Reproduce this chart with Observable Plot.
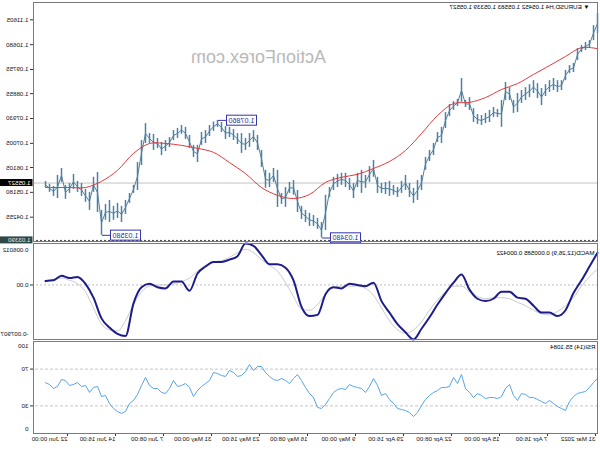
<!DOCTYPE html>
<html><head><meta charset="utf-8">
<script src="https://cdn.jsdelivr.net/npm/d3@7"></script>
<script src="https://cdn.jsdelivr.net/npm/@observablehq/plot@0.6"></script>
<style>
body{margin:0;background:#fff;}
#wrap{width:600px;height:450px;transform:scaleX(-1);transform-origin:50% 50%;overflow:hidden;background:#fff;}
#wrap svg{display:block;}
</style></head>
<body><div id="wrap"></div>
<script>
// ---------- data (H4 bars, oldest first) ----------
const barHigh = [1.1184,1.1139,1.1083,1.1076,1.1065,1.1053,1.0998,1.0990,1.0972,1.0934,1.0934,1.0942,1.0934,1.0919,1.0905,1.0923,1.0934,1.0919,1.0908,1.0897,1.0886,1.0860,1.0908,1.0927,1.0860,1.0827,1.0834,1.0823,1.0812,1.0804,1.0808,1.0830,1.0871,1.0860,1.0942,1.0864,1.0856,1.0845,1.0815,1.0760,1.0741,1.0700,1.0674,1.0648,1.0581,1.0562,1.0533,1.0551,1.0581,1.0559,1.0536,1.0544,1.0559,1.0555,1.0551,1.0574,1.0637,1.0614,1.0581,1.0600,1.0589,1.0551,1.0570,1.0589,1.0589,1.0585,1.0574,1.0536,1.0507,1.0406,1.0421,1.0432,1.0440,1.0451,1.0466,1.0525,1.0562,1.0555,1.0536,1.0514,1.0600,1.0607,1.0589,1.0600,1.0674,1.0730,1.0748,1.0737,1.0719,1.0737,1.0737,1.0752,1.0760,1.0763,1.0778,1.0786,1.0780,1.0767,1.0748,1.0741,1.0693,1.0693,1.0730,1.0760,1.0767,1.0756,1.0748,1.0722,1.0711,1.0704,1.0719,1.0734,1.0737,1.0774,1.0711,1.0629,1.0544,1.0514,1.0488,1.0466,1.0477,1.0466,1.0488,1.0473,1.0451,1.0592,1.0574,1.0518,1.0529,1.0551,1.0559,1.0585,1.0551,1.0544,1.0607,1.0581,1.0540,1.0548,1.05583];
const barLow = [1.1109,1.1083,1.1057,1.1046,1.1039,1.1009,1.0964,1.0960,1.0934,1.0897,1.0890,1.0897,1.0890,1.0875,1.0841,1.0867,1.0886,1.0871,1.0860,1.0849,1.0815,1.0812,1.0860,1.0860,1.0760,1.0797,1.0797,1.0778,1.0774,1.0767,1.0771,1.0778,1.0823,1.0834,1.0853,1.0838,1.0823,1.0800,1.0756,1.0700,1.0704,1.0655,1.0633,1.0600,1.0525,1.0488,1.0477,1.0499,1.0525,1.0514,1.0499,1.0507,1.0503,1.0510,1.0514,1.0514,1.0574,1.0555,1.0533,1.0514,1.0536,1.0495,1.0525,1.0536,1.0544,1.0536,1.0525,1.0499,1.0376,1.0348,1.0380,1.0391,1.0391,1.0406,1.0417,1.0443,1.0507,1.0514,1.0462,1.0473,1.0462,1.0555,1.0536,1.0533,1.0611,1.0674,1.0704,1.0685,1.0674,1.0663,1.0696,1.0711,1.0722,1.0715,1.0741,1.0760,1.0745,1.0726,1.0700,1.0693,1.0629,1.0648,1.0681,1.0715,1.0734,1.0719,1.0711,1.0685,1.0670,1.0655,1.0681,1.0674,1.0700,1.0700,1.0618,1.0525,1.0514,1.0477,1.0436,1.0406,1.0421,1.0414,1.0406,1.0414,1.0358,1.0443,1.0518,1.0451,1.0481,1.0503,1.0518,1.0529,1.0514,1.0492,1.0555,1.0495,1.0503,1.0518,1.05339];
// moving average, one value every 4 bars (last one on the final bar)
const maValues = [1.1053,1.1057,1.1024,1.0990,1.0957,1.0923,1.0901,1.0871,1.0853,1.0849,1.0804,1.0737,1.0674,1.0633,1.0607,1.0585,1.0574,1.0555,1.0510,1.0495,1.0507,1.0536,1.0588,1.0629,1.0667,1.0682,1.0693,1.0700,1.0700,1.0663,1.0600,1.0559,1.0536,1.0536,1.0536,1.0536];
// MACD(12,26,9), one value every 2 bars
const macdMain = [0.00468,0.00267,0.00067,-0.00117,-0.00367,-0.00451,-0.00401,-0.00401,-0.00301,-0.00200,-0.00184,-0.00100,-0.00100,-0.00200,-0.00234,-0.00200,-0.00067,0.00150,0.00033,-0.00117,-0.00284,-0.00468,-0.00635,-0.00790,-0.00685,-0.00568,-0.00401,-0.00234,0.00033,-0.00017,0,0.00017,-0.00050,-0.00033,-0.00134,-0.00434,-0.00451,-0.00317,0.00067,0.00251,0.00301,0.00301,0.00434,0.00568,0.00601,0.00418,0.00367,0.00334,0.00334,0.00267,0.00167,-0.00084,0.00050,0.00050,-0.00050,-0.00033,0.00017,-0.00033,-0.00267,-0.00740,-0.00710,-0.00618,-0.00484,-0.00184,0.00017,0.00117,0.00100,0.00134,0.00067,0.000585];
const macdSignal = [0.00234,0.00117,-0.00017,-0.00184,-0.00301,-0.00384,-0.00434,-0.00418,-0.00367,-0.00301,-0.00251,-0.00200,-0.00184,-0.00184,-0.00200,-0.00167,-0.00100,-0.00017,-0.00017,-0.00100,-0.00217,-0.00367,-0.00534,-0.00651,-0.00701,-0.00651,-0.00518,-0.00334,-0.00150,-0.00050,-0.00017,-0.00017,-0.00017,-0.00033,-0.00134,-0.00284,-0.00367,-0.00351,-0.00167,0.00033,0.00200,0.00284,0.00367,0.00468,0.00518,0.00468,0.00401,0.00351,0.00334,0.00284,0.00200,0.00100,0.00050,0.00017,0,0,-0.00017,-0.00100,-0.00284,-0.00518,-0.00668,-0.00651,-0.00568,-0.00334,-0.00100,0.00017,0.00067,0.00100,0.00084,0.000422];
// RSI(14), one value per bar
const rsiValues = [59.8,55.4,50.0,45.7,44.6,43.5,40.2,34.8,25.0,27.2,29.3,32.6,35.9,32.6,34.8,37.0,39.1,39.1,42.4,43.5,35.9,41.3,53.3,48.9,40.2,38.0,39.1,39.1,38.0,41.3,43.5,39.1,44.6,48.9,64.1,54.3,60.9,51.1,50.0,50.0,46.7,44.6,41.3,37.0,30.4,22.8,18.5,22.8,25.0,26.1,27.2,32.6,37.0,43.5,41.3,52.2,59.8,51.1,44.6,48.9,50.0,51.1,53.3,47.8,48.9,47.8,44.6,38.0,31.5,27.2,28.3,39.1,43.5,50.0,57.6,64.1,59.8,54.3,57.6,59.8,57.6,58.7,62.0,66.3,72.8,72.8,68.5,75.0,67.4,63.0,62.0,66.3,68.5,62.0,63.0,65.2,66.3,57.6,54.3,51.1,46.7,40.2,50.0,54.3,52.2,51.1,57.6,48.9,43.5,44.6,48.9,48.9,52.2,60.9,52.2,42.4,35.9,32.6,23.9,21.7,23.9,27.2,32.6,41.3,40.2,51.1,50.0,44.6,52.2,51.1,55.4,53.3,52.2,57.6,58.7,51.1,48.9,53.3,55.1084];
const timeLabels = ["31 Mar 2022","7 Apr 16:00","15 Apr 00:00","22 Apr 08:00","29 Apr 16:00","9 May 00:00","16 May 08:00","23 May 16:00","31 May 00:00","7 Jun 08:00","14 Jun 16:00","22 Jun 00:00"];
const priceTicks = [1.04255,1.05180,1.06105,1.07005,1.07930,1.08855,1.09755,1.10680,1.11605];
const symbolTitle = "\u25BC EURUSD,H4 1.05452 1.05583 1.05339 1.05527";
const lastClose = 1.05527;
const hLevel = 1.03390;
const annotBars = [69, 95, 124];
const annotKinds = ["low", "high", "low"];
const macdTitle = "MACD(12,26,9) 0.000585 0.000422";
const macdRange = [-0.007907, 0.006012];
const rsiTitle = "RSI(14) 55.1084";
const rsiLevels = [30, 70];

// ---------- tables ----------
const bars = barHigh.map((h, i) => ({i, high: h, low: barLow[i], mid: (h + barLow[i]) / 2}));
const ma = maValues.map((v, k) => ({i: Math.min(4 * k, bars.length - 1), v}));
const macd = macdMain.map((v, k) => ({i: 2 * k, v, s: macdSignal[k]}));
const rsi = rsiValues.map((v, i) => ({i, v}));
const annots = annotBars.map((b, k) => ({i: b, price: bars[b][annotKinds[k]]}));
const timeTicks = timeLabels.map((t, k) => 12 * k);

const FONT = "'Liberation Sans', Arial, sans-serif";
const W = 600, ML = 2, MR = 34;
const xDom = [0, 141];
const baseStyle = {fontFamily: FONT, fontSize: "6px", background: "transparent", overflow: "visible", color: "#111"};
const frameColor = "#7a7a7a";
const barColor = "#52809c";

const main = Plot.plot({
  width: W, height: 242, marginTop: 2, marginBottom: 1, marginLeft: ML, marginRight: MR,
  style: baseStyle,
  x: {domain: xDom, axis: null, label: null},
  y: {domain: [1.0335, 1.1225], label: null},
  marks: [
    Plot.text(["ActionForex.com"], {frameAnchor: "top", dx: 57, dy: 55, fontSize: 18, fill: "#b9b9b9", lineAnchor: "middle"}),
    Plot.ruleY([lastClose], {stroke: "#c4c4c4", strokeWidth: 1}),
    Plot.ruleY([hLevel], {stroke: "#404040", strokeDasharray: "2,2", strokeWidth: 1}),
    Plot.line(bars, {x: "i", y: "mid", stroke: barColor, strokeWidth: 1}),
    Plot.ruleX(bars, {x: "i", y1: "low", y2: "high", stroke: barColor, strokeWidth: 1.5}),
    Plot.line(ma, {x: "i", y: "v", stroke: "#e03a3e", strokeWidth: 1, curve: "catmull-rom"}),
    Plot.ruleY(annots, {y: "price", x1: d => d.i - 2, x2: "i", stroke: "#3535a8", strokeWidth: 1}),
    Plot.text(annots, {x: d => d.i - 2, y: "price", text: d => d.price.toFixed(5), textAnchor: "end", dx: -3, fontSize: 7.2, fill: "#2b2ba6"}),
    Plot.text([symbolTitle], {frameAnchor: "top-left", dx: 8, dy: 5, textAnchor: "start", lineAnchor: "middle", fontSize: 6.2, fill: "#000"}),
    Plot.axisY(priceTicks, {anchor: "right", label: null, tickSize: 3, tickPadding: 2, tickFormat: d => d.toFixed(5), fontSize: 6.2, stroke: "#333", fill: "#111"}),
    Plot.text([hLevel], {y: d => d, frameAnchor: "right", dx: 3, textAnchor: "start", text: d => d.toFixed(5), fontSize: 6.2, fill: "#e6e6e6"}),
    Plot.text([lastClose], {y: d => d, frameAnchor: "right", dx: 3, textAnchor: "start", text: d => d.toFixed(5), fontSize: 6.2, fill: "#ffffff"}),
    Plot.frame({stroke: frameColor})
  ]
});

const macdPlot = Plot.plot({
  width: W, height: 99, marginTop: 1, marginBottom: 2, marginLeft: ML, marginRight: MR,
  style: baseStyle,
  x: {domain: xDom, axis: null, label: null},
  y: {domain: macdRange, label: null},
  marks: [
    Plot.ruleY([0], {stroke: "#bdbdbd", strokeDasharray: "2,2"}),
    Plot.line(macd, {x: "i", y: "s", stroke: "#c9c9c9", strokeWidth: 1, curve: "monotone-x"}),
    Plot.line(macd, {x: "i", y: "v", stroke: "#1c1c8c", strokeWidth: 2, curve: "monotone-x"}),
    Plot.text([macdTitle], {frameAnchor: "top-left", dx: 3, dy: 10, textAnchor: "start", lineAnchor: "middle", fontSize: 6.2, fill: "#000"}),
    Plot.axisY([macdRange[1]], {anchor: "right", label: null, tickSize: 0, tickPadding: 5, dy: 7, tickFormat: d => d.toFixed(6), fontSize: 6.2, fill: "#111"}),
    Plot.axisY([0], {anchor: "right", label: null, tickSize: 3, tickPadding: 2, tickFormat: () => "0.00", fontSize: 6.2, stroke: "#333", fill: "#111"}),
    Plot.axisY([macdRange[0]], {anchor: "right", label: null, tickSize: 0, tickPadding: 5, dy: -5, tickFormat: d => d.toFixed(6), fontSize: 6.2, fill: "#111"}),
    Plot.frame({stroke: frameColor})
  ]
});

const rsiPlot = Plot.plot({
  width: W, height: 109, marginTop: 0, marginBottom: 17, marginLeft: ML, marginRight: MR,
  style: baseStyle,
  x: {domain: xDom, label: null},
  y: {domain: [0, 100], label: null},
  marks: [
    Plot.ruleY(rsiLevels, {stroke: "#c6c6c6", strokeDasharray: "3,2"}),
    Plot.line(rsi, {x: "i", y: "v", stroke: "#58a4e6", strokeWidth: 1}),
    Plot.text([rsiTitle], {frameAnchor: "top-left", dx: 2, dy: 6, textAnchor: "start", lineAnchor: "middle", fontSize: 6.2, fill: "#000"}),
    Plot.axisY([100], {anchor: "right", label: null, tickSize: 0, tickPadding: 5, dy: 5, fontSize: 6.2, fill: "#111"}),
    Plot.axisY(rsiLevels, {anchor: "right", label: null, tickSize: 3, tickPadding: 2, fontSize: 6.2, stroke: "#333", fill: "#111"}),
    Plot.axisY([0], {anchor: "right", label: null, tickSize: 0, tickPadding: 5, dy: -4, fontSize: 6.2, fill: "#111"}),
    Plot.axisX(timeTicks, {anchor: "bottom", label: null, tickSize: 3, tickPadding: 0, textAnchor: "start", dx: 2, tickFormat: d => timeLabels[d / 12], fontSize: 6.2, stroke: "#333", fill: "#111"}),
    Plot.frame({stroke: frameColor})
  ]
});

const wrap = document.getElementById("wrap");
wrap.append(main, macdPlot, rsiPlot);

// boxes behind the annotation labels and the axis price labels
const annotLabels = annots.map(d => d.price.toFixed(5));
main.querySelectorAll("text").forEach(t => {
  const s = t.textContent;
  const fillAttr = t.getAttribute("fill") || t.parentNode.getAttribute("fill");
  let rectFill = null, rectStroke = "none", padL = 2, padR = 2, padY = 0;
  if (annotLabels.includes(s) && fillAttr === "#2b2ba6") { rectFill = "#ffffff"; rectStroke = "#3535a8"; padY = 0.5; }
  else if (s === lastClose.toFixed(5) && fillAttr === "#ffffff") { rectFill = "#000000"; padR = 10; }
  else if (s === hLevel.toFixed(5) && fillAttr === "#e6e6e6") { rectFill = "#2e4848"; padR = 10; }
  if (!rectFill) return;
  const b = t.getBBox();
  const r = document.createElementNS("http://www.w3.org/2000/svg", "rect");
  r.setAttribute("x", b.x - padL);
  r.setAttribute("y", b.y - padY);
  r.setAttribute("width", b.width + padL + padR);
  r.setAttribute("height", b.height + 2 * padY);
  r.setAttribute("fill", rectFill);
  r.setAttribute("stroke", rectStroke);
  if (t.getAttribute("transform")) r.setAttribute("transform", t.getAttribute("transform"));
  t.parentNode.insertBefore(r, t);
});
</script>
</body></html>
